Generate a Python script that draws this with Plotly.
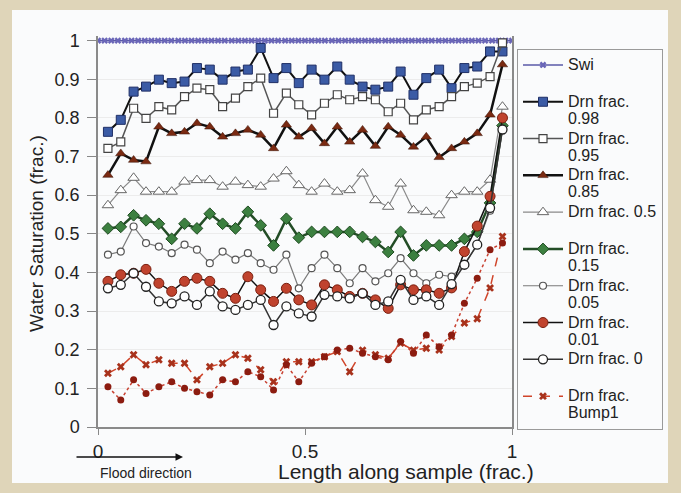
import plotly.graph_objects as go

# ---------------- data ----------------
x_pos = [0.024, 0.055, 0.086, 0.116, 0.147, 0.178, 0.209, 0.239, 0.270, 0.301, 0.332,
         0.362, 0.393, 0.424, 0.455, 0.485, 0.516, 0.547, 0.578, 0.608, 0.639, 0.670,
         0.701, 0.731, 0.762, 0.793, 0.824, 0.854, 0.885, 0.916, 0.947, 0.977]

swi_x = [0.0, 0.016, 0.032, 0.048, 0.065, 0.081, 0.097, 0.113, 0.129, 0.145, 0.161, 0.177,
         0.194, 0.210, 0.226, 0.242, 0.258, 0.274, 0.290, 0.306, 0.323, 0.339, 0.355, 0.371,
         0.387, 0.403, 0.419, 0.435, 0.452, 0.468, 0.484, 0.500, 0.516, 0.532, 0.548, 0.565,
         0.581, 0.597, 0.613, 0.629, 0.645, 0.661, 0.677, 0.694, 0.710, 0.726, 0.742, 0.758,
         0.774, 0.790, 0.806, 0.823, 0.839, 0.855, 0.871, 0.887, 0.903, 0.919, 0.935, 0.952,
         0.968, 0.984, 1.0]
swi_y = [1.0, 1.0, 1.0, 1.0, 1.0, 1.0, 1.0, 1.0, 1.0, 1.0, 1.0, 1.0, 1.0, 1.0, 1.0, 1.0,
         1.0, 1.0, 1.0, 1.0, 1.0, 1.0, 1.0, 1.0, 1.0, 1.0, 1.0, 1.0, 1.0, 1.0, 1.0, 1.0,
         1.0, 1.0, 1.0, 1.0, 1.0, 1.0, 1.0, 1.0, 1.0, 1.0, 1.0, 1.0, 1.0, 1.0, 1.0, 1.0,
         1.0, 1.0, 1.0, 1.0, 1.0, 1.0, 1.0, 1.0, 1.0, 1.0, 1.0, 1.0, 1.0, 1.0, 1.0]

drn_098 = [0.764, 0.795, 0.868, 0.881, 0.899, 0.890, 0.894, 0.929, 0.925, 0.899, 0.920,
           0.925, 0.981, 0.903, 0.929, 0.890, 0.925, 0.899, 0.933, 0.899, 0.881, 0.873,
           0.881, 0.920, 0.860, 0.903, 0.925, 0.877, 0.929, 0.933, 0.972, 0.972]
drn_095 = [0.721, 0.738, 0.825, 0.799, 0.829, 0.821, 0.855, 0.877, 0.873, 0.829, 0.851,
           0.881, 0.903, 0.812, 0.864, 0.834, 0.808, 0.838, 0.860, 0.847, 0.855, 0.847,
           0.816, 0.838, 0.795, 0.821, 0.829, 0.855, 0.881, 0.890, 0.907, 0.994]
drn_085 = [0.652, 0.708, 0.691, 0.687, 0.777, 0.760, 0.764, 0.786, 0.777, 0.751, 0.760,
           0.769, 0.756, 0.721, 0.782, 0.751, 0.773, 0.734, 0.777, 0.738, 0.769, 0.727,
           0.777, 0.756, 0.725, 0.751, 0.698, 0.721, 0.738, 0.760, 0.808, 0.938]
drn_050 = [0.574, 0.613, 0.645, 0.609, 0.609, 0.609, 0.635, 0.639, 0.639, 0.622, 0.635,
           0.626, 0.622, 0.643, 0.662, 0.626, 0.609, 0.630, 0.609, 0.613, 0.656, 0.587,
           0.570, 0.630, 0.561, 0.557, 0.548, 0.600, 0.609, 0.609, 0.640, 0.829]
drn_015 = [0.514, 0.518, 0.548, 0.535, 0.526, 0.487, 0.526, 0.514, 0.552, 0.526, 0.514,
           0.557, 0.522, 0.470, 0.539, 0.490, 0.505, 0.505, 0.505, 0.505, 0.492, 0.479,
           0.453, 0.505, 0.444, 0.470, 0.470, 0.470, 0.487, 0.505, 0.580, 0.780]
drn_005 = [0.446, 0.454, 0.519, 0.476, 0.467, 0.450, 0.472, 0.459, 0.424, 0.454, 0.433,
           0.450, 0.424, 0.407, 0.446, 0.359, 0.411, 0.446, 0.411, 0.372, 0.411, 0.377,
           0.398, 0.437, 0.398, 0.372, 0.394, 0.389, 0.420, 0.472, 0.560, 0.770]
drn_001 = [0.377, 0.394, 0.398, 0.408, 0.372, 0.351, 0.377, 0.385, 0.377, 0.346, 0.333,
           0.389, 0.355, 0.325, 0.359, 0.329, 0.316, 0.368, 0.355, 0.338, 0.346, 0.329,
           0.307, 0.368, 0.355, 0.355, 0.346, 0.360, 0.454, 0.520, 0.597, 0.800]
drn_000 = [0.359, 0.368, 0.398, 0.363, 0.325, 0.320, 0.338, 0.316, 0.351, 0.312, 0.303,
           0.316, 0.329, 0.264, 0.312, 0.294, 0.286, 0.342, 0.338, 0.333, 0.346, 0.316,
           0.325, 0.381, 0.329, 0.338, 0.316, 0.370, 0.420, 0.472, 0.567, 0.770]
bump1 = [0.139, 0.156, 0.187, 0.161, 0.174, 0.165, 0.165, 0.122, 0.156, 0.165, 0.187,
         0.178, 0.148, 0.117, 0.169, 0.169, 0.169, 0.182, 0.195, 0.143, 0.199, 0.187,
         0.178, 0.217, 0.199, 0.204, 0.199, 0.234, 0.269, 0.280, 0.360, 0.493]
bump2 = [0.104, 0.070, 0.122, 0.087, 0.104, 0.117, 0.100, 0.091, 0.083, 0.122, 0.117,
         0.143, 0.130, 0.096, 0.161, 0.117, 0.165, 0.182, 0.199, 0.204, 0.191, 0.182,
         0.174, 0.221, 0.191, 0.238, 0.208, 0.238, 0.320, 0.385, 0.459, 0.476]

y_ticks = [0, 0.1, 0.2, 0.3, 0.4, 0.5, 0.6, 0.7, 0.8, 0.9, 1]
y_tick_text = ["0", "0.1", "0.2", "0.3", "0.4", "0.5", "0.6", "0.7", "0.8", "0.9", "1"]
x_ticks = [0, 0.5, 1]
x_tick_text = ["0", "0.5", "1"]

FONT = "Liberation Sans, Arial, sans-serif"


def lg(*lines):
    parts = ['<span style="font-size:16px">%s</span>' % s for s in lines]
    if len(parts) == 1:
        parts.append('<span style="font-size:16px">\u00a0</span>')
    return "<br>".join(parts)


fig = go.Figure()

fig.add_trace(go.Scatter(x=swi_x, y=swi_y, mode="lines+markers", name=lg("Swi"),
                         line=dict(color="#5a5aa8", width=1.5),
                         marker=dict(symbol="x", size=6, color="#6a66b8",
                                     line=dict(width=0))))
fig.add_trace(go.Scatter(x=x_pos, y=drn_098, mode="lines+markers",
                         name=lg("Drn frac.", "0.98"),
                         line=dict(color="#111111", width=2),
                         marker=dict(symbol="square", size=9, color="#3b5ba5",
                                     line=dict(color="#1f2f66", width=1))))
fig.add_trace(go.Scatter(x=x_pos, y=drn_095, mode="lines+markers",
                         name=lg("Drn frac.", "0.95"),
                         line=dict(color="#555555", width=1.5),
                         marker=dict(symbol="square", size=8, color="white",
                                     line=dict(color="#444444", width=1.2))))
fig.add_trace(go.Scatter(x=x_pos, y=drn_085, mode="lines+markers",
                         name=lg("Drn frac.", "0.85"),
                         line=dict(color="#111111", width=2.5),
                         marker=dict(symbol="triangle-up", size=9, color="#7a2a12",
                                     line=dict(color="#3a1408", width=0.5))))
fig.add_trace(go.Scatter(x=x_pos, y=drn_050, mode="lines+markers",
                         name=lg("Drn frac. 0.5"),
                         line=dict(color="#8a8a8a", width=1.2),
                         marker=dict(symbol="triangle-up", size=10, color="white",
                                     line=dict(color="#666666", width=1))))
fig.add_trace(go.Scatter(x=x_pos, y=drn_015, mode="lines+markers",
                         name=lg("Drn frac.", "0.15"),
                         line=dict(color="#234d26", width=2.5),
                         marker=dict(symbol="diamond", size=9, color="#3c8040",
                                     line=dict(color="#1e4a20", width=1))))
fig.add_trace(go.Scatter(x=x_pos, y=drn_005, mode="lines+markers",
                         name=lg("Drn frac.", "0.05"),
                         line=dict(color="#7a7a7a", width=1.2),
                         marker=dict(symbol="circle", size=7, color="white",
                                     line=dict(color="#555555", width=1.2))))
fig.add_trace(go.Scatter(x=x_pos, y=drn_001, mode="lines+markers",
                         name=lg("Drn frac.", "0.01"),
                         line=dict(color="#111111", width=1.5),
                         marker=dict(symbol="circle", size=10, color="#c0432e",
                                     line=dict(color="#7a2010", width=1))))
fig.add_trace(go.Scatter(x=x_pos, y=drn_000, mode="lines+markers",
                         name=lg("Drn frac. 0"),
                         line=dict(color="#333333", width=1.5),
                         marker=dict(symbol="circle", size=9, color="white",
                                     line=dict(color="#222222", width=1.3))))
fig.add_trace(go.Scatter(x=x_pos, y=bump1, mode="lines+markers",
                         name=lg("Drn frac.", "Bump1"),
                         line=dict(color="#d0452a", width=1.5, dash="dash"),
                         marker=dict(symbol="x", size=7, color="#a8321c",
                                     line=dict(width=0))))
fig.add_trace(go.Scatter(x=x_pos, y=bump2, mode="lines+markers", showlegend=False,
                         line=dict(color="#c84030", width=1.5, dash="dot"),
                         marker=dict(symbol="circle", size=7, color="#8c1c10")))

# layout geometry (px): plot area x 98..512, y 36..427
L, R, T, B = 98, 169, 36, 66
W, H = 681, 493
pw = W - L - R
ph = H - T - B


def px2paper(px, py):
    return (px - L) / pw, (H - B - py) / ph


shapes = []
x0, y1 = px2paper(12, 10)
x1, y0 = px2paper(668, 483)
shapes.append(dict(type="rect", xref="paper", yref="paper", x0=x0, x1=x1, y0=y0, y1=y1,
                   fillcolor="#fafbfc", line=dict(width=0), layer="below"))

annotations = []
ax_, ay_ = px2paper(36, 234)
annotations.append(dict(text="Water Saturation (frac.)", xref="paper", yref="paper",
                        x=ax_, y=ay_, xanchor="center", yanchor="middle",
                        textangle=-90, showarrow=False,
                        font=dict(family=FONT, size=19, color="#222222")))
ax_, ay_ = px2paper(406, 471)
annotations.append(dict(text="Length along sample (frac.)", xref="paper", yref="paper",
                        x=ax_, y=ay_, xanchor="center", yanchor="middle", showarrow=False,
                        font=dict(family=FONT, size=21, color="#222222")))
hx, hy = px2paper(183, 457)
annotations.append(dict(text="", xref="paper", yref="paper", x=hx, y=hy, ax=-108, ay=0,
                        showarrow=True, arrowhead=2, arrowsize=1, arrowwidth=1.5,
                        arrowcolor="#111111"))
ax_, ay_ = px2paper(146, 473)
annotations.append(dict(text="Flood direction", xref="paper", yref="paper",
                        x=ax_, y=ay_, xanchor="center", yanchor="middle", showarrow=False,
                        font=dict(family=FONT, size=14, color="#222222")))

fig.update_layout(
    width=W, height=H,
    margin=dict(l=L, r=R, t=T, b=B, pad=0, autoexpand=False),
    paper_bgcolor="#dfd5b9",
    plot_bgcolor="#fafbfc",
    font=dict(family=FONT, color="#222222"),
    shapes=shapes,
    annotations=annotations,
    legend=dict(xref="container", yref="container", x=517 / W, y=1 - 49 / H,
                xanchor="left", yanchor="top", bgcolor="#fafbfc",
                bordercolor="#9a9a9a", borderwidth=1, itemwidth=40,
                font=dict(family=FONT, size=13, color="#222222"),
                tracegroupgap=0, valign="top", maxheight=440),
    xaxis=dict(range=[0, 1], tickvals=x_ticks, ticktext=x_tick_text, ticks="outside",
               ticklen=6, tickcolor="#888888", showline=True, linecolor="#8a8a8a",
               linewidth=1.5, showgrid=False, zeroline=False, automargin=False,
               tickfont=dict(family=FONT, size=19, color="#222222")),
    yaxis=dict(range=[0, 1.012], tickvals=y_ticks, ticktext=y_tick_text, ticks="outside",
               ticklen=9, tickcolor="#888888", showline=True, linecolor="#8a8a8a",
               linewidth=1.5, mirror=True, showgrid=True, gridcolor="#ececec",
               zeroline=False, automargin=False, ticklabelstandoff=4,
               tickfont=dict(family=FONT, size=18, color="#222222")),
)

fig.write_html("out.html", config={"displayModeBar": False},
               post_script="document.body.style.margin='0px';")
